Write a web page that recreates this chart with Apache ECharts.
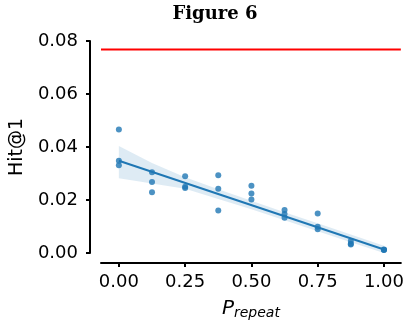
<!DOCTYPE html>
<html>
<head>
<meta charset="utf-8">
<script src="https://cdn.jsdelivr.net/npm/echarts@6/dist/echarts.min.js"></script>
<style>
  html, body { margin: 0; padding: 0; background: #fff; }
  #chart { width: 407px; height: 329px; }
</style>
</head>
<body>
<div id="chart"></div>
<script>
// scatter points (P_repeat, Hit@1)
var pRepeat = [0, 0, 0, 0.125, 0.125, 0.125, 0.25, 0.25, 0.25, 0.375, 0.375, 0.375,
  0.5, 0.5, 0.5, 0.625, 0.625, 0.625, 0.75, 0.75, 0.75, 0.875, 0.875, 0.875, 1, 1, 1];
var hitAt1 = [0.0466, 0.0348, 0.0331, 0.0305, 0.0268, 0.0229, 0.0290, 0.0250, 0.0245,
  0.0293, 0.0242, 0.0160, 0.0254, 0.0225, 0.0202, 0.0162, 0.0147, 0.0133,
  0.0149, 0.0099, 0.0090, 0.0045, 0.0035, 0.0032, 0.0013, 0.0012, 0.0011];

// regression line and its confidence band
var fitX = [0, 1];
var fitY = [0.0348, 0.0013];
var bandX = [0, 0.125, 0.25, 0.375, 0.5, 0.625, 0.75, 0.875, 1];
var bandUpper = [0.0404, 0.0340, 0.0286, 0.0241, 0.0197, 0.0154, 0.0112, 0.0070, 0.0027];
var bandLower = [0.0282, 0.0262, 0.0242, 0.0204, 0.0165, 0.0124, 0.0082, 0.0041, 0.0000];

// horizontal reference level (red)
var refLevel = 0.0768;

var xTicks = [0, 0.25, 0.5, 0.75, 1];
var xMin = -0.0674, xMax = 1.0637;

var blue = '#1f77b4';
var myChart = echarts.init(document.getElementById('chart'));

var option = {
  animation: false,
  title: {
    text: 'Figure 6',
    left: 210,
    textAlign: 'center',
    top: 0,
    textStyle: { fontFamily: 'DejaVu Serif', fontWeight: 'bold', fontSize: 18, color: '#000' }
  },
  grid: { left: 101, right: 4, top: 41, bottom: 76 },
  xAxis: {
    type: 'value',
    min: xMin,
    max: xMax,
    offset: 10,
    splitLine: { show: false },
    axisLine: { onZero: false, lineStyle: { color: '#000', width: 2 } },
    axisTick: { customValues: xTicks, length: 4, lineStyle: { color: '#000', width: 2 } },
    axisLabel: {
      customValues: xTicks,
      margin: 10,
      fontFamily: 'DejaVu Sans', fontSize: 18, color: '#000',
      formatter: function (v) { return v.toFixed(2); }
    },
    name: '{p|P}{s|repeat}',
    nameLocation: 'middle',
    nameGap: 35,
    nameTextStyle: {
      rich: {
        p: { fontFamily: 'DejaVu Sans', fontStyle: 'italic', fontSize: 20, color: '#000' },
        s: { fontFamily: 'DejaVu Sans', fontStyle: 'italic', fontSize: 14, color: '#000', verticalAlign: 'bottom', padding: [8, 0, 0, 0] }
      }
    }
  },
  yAxis: {
    type: 'value',
    min: 0,
    max: 0.08,
    interval: 0.02,
    offset: 11,
    splitLine: { show: false },
    axisLine: { show: true, onZero: false, lineStyle: { color: '#000', width: 2 } },
    axisTick: { show: true, length: 4, lineStyle: { color: '#000', width: 2 } },
    axisLabel: {
      margin: 12,
      fontFamily: 'DejaVu Sans', fontSize: 18, color: '#000',
      formatter: function (v) { return v.toFixed(2); }
    },
    name: 'Hit@1',
    nameLocation: 'middle',
    nameGap: 58,
    nameTextStyle: { fontFamily: 'DejaVu Sans', fontSize: 19, color: '#000' }
  },
  series: [
    {
      type: 'custom',
      data: [0],
      silent: true,
      z: 1,
      renderItem: function (params, api) {
        var pts = [];
        for (var i = 0; i < bandX.length; i++) pts.push(api.coord([bandX[i], bandUpper[i]]));
        for (var j = bandX.length - 1; j >= 0; j--) pts.push(api.coord([bandX[j], bandLower[j]]));
        return {
          type: 'polygon',
          shape: { points: pts },
          style: { fill: 'rgba(31,119,180,0.15)', stroke: null }
        };
      }
    },
    {
      type: 'line',
      data: fitX.map(function (x, i) { return [x, fitY[i]]; }),
      showSymbol: false,
      z: 2,
      lineStyle: { color: blue, width: 2 }
    },
    {
      type: 'scatter',
      data: pRepeat.map(function (x, i) { return [x, hitAt1[i]]; }),
      symbolSize: 6,
      z: 3,
      itemStyle: { color: blue, opacity: 0.8 }
    },
    {
      type: 'line',
      data: [[xMin, refLevel], [xMax, refLevel]],
      showSymbol: false,
      z: 4,
      lineStyle: { color: '#ff0000', width: 2 }
    }
  ]
};

myChart.setOption(option);
</script>
</body>
</html>
